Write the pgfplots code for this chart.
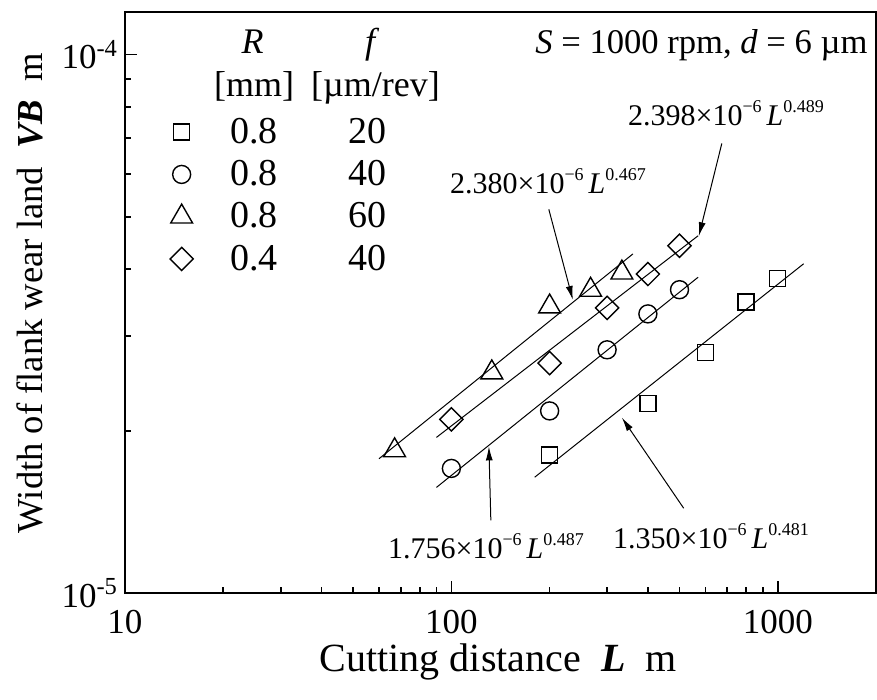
\documentclass[border=0pt]{standalone}
\usepackage{fontspec}
\setmainfont{Liberation Serif}
\usepackage{pgfplots}
\pgfplotsset{compat=1.18}
\usetikzlibrary{arrows.meta}

\newcommand{\sups}[1]{\raisebox{0.42em}{\fontsize{9}{9}\selectfont #1}}
\newcommand{\fit}[2]{#1×10\sups{−6}\,\textit{L}\sups{#2}}
\newcommand{\row}[2]{\hspace*{3.75pt}\makebox[51pt][c]{#1}\makebox[63pt][c]{#2}}

\begin{document}
\begin{tikzpicture}
\begin{axis}[
    scale only axis,
    width=375.5pt, height=290.5pt,
    xmode=log, ymode=log,
    xmin=10, xmax=2000,
    ymin=1e-5, ymax=1.2e-4,
    xtick={10,100,1000}, xticklabels={10,100,1000},
    minor xtick={20,30,40,50,60,70,80,90,200,300,400,500,600,700,800,900},
    ytick={1e-5,1e-4}, yticklabels={10\textsuperscript{-5},10\textsuperscript{-4}},
    minor ytick={2e-5,3e-5,4e-5,5e-5,6e-5,7e-5,8e-5,9e-5},
    tick pos=left, tick align=inside,
    major tick length=6pt, minor tick length=3pt,
    axis line style={line width=1pt},
    every tick/.style={black, line width=0.8pt},
    ticklabel style={font=\fontsize{17.5}{17.5}\selectfont},
    xticklabel style={inner sep=0.5pt, yshift=-8pt},
    xlabel={Cutting distance \ \textbf{\textit{L}}\ \ m},
    ylabel={Width of flank wear land \ \textbf{\textit{VB}}\ \ m},
    xlabel style={font=\fontsize{20}{20}\selectfont, inner sep=0.5pt, at={(rel axis cs:0.497,-0.1343)}, anchor=base},
    ylabel style={font=\fontsize{18.3}{18.3}\selectfont, at={(rel axis cs:-0.1105,0.5164)}, anchor=base},
    legend style={draw=none, fill=none, inner sep=0pt, outer sep=0pt,
        at={(rel axis cs:0.060,0.821)}, anchor=north west,
        font=\fontsize{19}{19}\selectfont, row sep=5pt,
        nodes={inner sep=1pt}},
    legend cell align=left,
]
% fitted lines (end points of the power laws)
\addplot[forget plot, line width=0.5pt] coordinates {(60,1.776e-5) (360,4.265e-5)};
\addplot[forget plot, line width=0.5pt] coordinates {(90,1.946e-5) (570,4.608e-5)};
\addplot[forget plot, line width=0.5pt] coordinates {(90,1.571e-5) (570,3.860e-5)};
\addplot[forget plot, line width=0.5pt] coordinates {(180,1.641e-5) (1200,4.088e-5)};

% measured wear
\addplot[only marks, mark=square, mark size=4pt, mark options={line width=0.7pt, fill=white}] coordinates {
    (200,1.806e-5) (400,2.248e-5) (600,2.798e-5) (800,3.473e-5) (1000,3.842e-5)};
\addlegendentry{\row{0.8}{20}}
\addplot[only marks, mark=o, mark size=4.5pt, mark options={line width=0.7pt, fill=white}] coordinates {
    (100,1.704e-5) (200,2.179e-5) (300,2.830e-5) (400,3.300e-5) (500,3.660e-5)};
\addlegendentry{\row{0.8}{40}}
\addplot[only marks, mark=triangle, mark size=6.3pt, mark options={line width=0.7pt, fill=white}] coordinates {
    (67,1.840e-5) (133,2.568e-5) (200,3.404e-5) (267,3.656e-5) (333,3.936e-5)};
\addlegendentry{\row{0.8}{60}}
\addplot[only marks, mark=square, mark size=4.1pt, mark options={rotate=45, line width=0.7pt, fill=white}] coordinates {
    (100,2.102e-5) (200,2.674e-5) (300,3.385e-5) (400,3.914e-5) (500,4.416e-5)};
\addlegendentry{\row{0.4}{40}}

% table header
\node[anchor=base, font=\fontsize{18}{18}\selectfont] at (rel axis cs:0.1700,0.9286) {\textit{R}};
\node[anchor=base, font=\fontsize{18}{18}\selectfont] at (rel axis cs:0.3290,0.9286) {\textit{f}};
\node[anchor=base, font=\fontsize{18}{18}\selectfont] at (rel axis cs:0.1718,0.8554) {[mm]};
\node[anchor=base, font=\fontsize{18}{18}\selectfont] at (rel axis cs:0.3335,0.8554) {[µm/rev]};
\node[anchor=base east, font=\fontsize{17.3}{17.3}\selectfont] at (rel axis cs:0.998,0.9294) {\textit{S} = 1000 rpm, \textit{d} = 6 µm};

% fit labels
\node[anchor=base, font=\fontsize{15}{15}\selectfont] at (rel axis cs:0.8003,0.8055) {\fit{2.398}{0.489}};
\node[anchor=base, font=\fontsize{15}{15}\selectfont] at (rel axis cs:0.5633,0.688) {\fit{2.380}{0.467}};
\node[anchor=base, font=\fontsize{15}{15}\selectfont] at (rel axis cs:0.4807,0.0602) {\fit{1.756}{0.487}};
\node[anchor=base, font=\fontsize{15}{15}\selectfont] at (rel axis cs:0.7803,0.0769) {\fit{1.350}{0.481}};

\draw[-{Latex[length=7pt,width=3.5pt]}, line width=0.5pt] (axis cs:673.9,6.84e-5) -- (axis cs:572.9,4.60e-5);
\draw[-{Latex[length=7pt,width=3.5pt]}, line width=0.5pt] (axis cs:198.9,5.16e-5) -- (axis cs:235.6,3.503e-5);
\draw[-{Latex[length=7pt,width=3.5pt]}, line width=0.5pt] (axis cs:132.1,1.365e-5) -- (axis cs:130.3,1.872e-5);
\draw[-{Latex[length=7pt,width=3.5pt]}, line width=0.5pt] (axis cs:515,1.437e-5) -- (axis cs:332.9,2.118e-5);

\coordinate (sw) at (rel axis cs:0,0);
\coordinate (ne) at (rel axis cs:1,1);
\end{axis}
\pgfresetboundingbox
\path[use as bounding box] ([shift={(-62.5pt,-53.5pt)}]sw) rectangle ([shift={(0.5pt,6pt)}]ne);
\end{tikzpicture}
\end{document}
